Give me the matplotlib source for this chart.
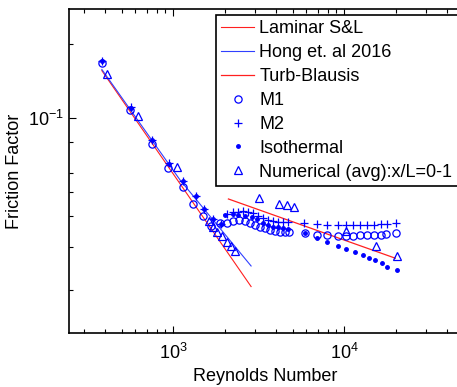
import matplotlib
matplotlib.use("Agg")
import matplotlib.pyplot as plt
from matplotlib.ticker import LogLocator, NullFormatter

plt.rcParams['font.family'] = ['Liberation Sans', 'DejaVu Sans']
plt.rcParams['mathtext.default'] = 'regular'

# ---- data ----
lam_re = [383, 2858]
lam_f = [0.1563, 0.0207]

hong_re = [383, 1099, 2858]
hong_f = [0.158, 0.0561, 0.0251]

blas_re = [2106, 19930]
blas_f = [0.0470, 0.0270]

m1_re = [383, 560, 751, 939, 1139, 1314, 1492, 1657, 1883, 2061, 2253, 2442,
         2636, 2820, 3017, 3227, 3451, 3692, 3949, 4224, 4519, 4788, 5914,
         6925, 7986, 9188, 10273, 11334, 12405, 13689, 15041, 16460, 17535, 20064]
m1_f = [0.1673, 0.1081, 0.0784, 0.0626, 0.0524, 0.0448, 0.0401, 0.0365, 0.0374,
        0.0376, 0.0383, 0.0386, 0.0383, 0.0376, 0.0368, 0.0362, 0.0357, 0.0351,
        0.0349, 0.0346, 0.0344, 0.0346, 0.0341, 0.0337, 0.0334, 0.0332, 0.0332,
        0.0332, 0.0335, 0.0335, 0.0336, 0.0336, 0.0338, 0.0343]

m2_re = [383, 566, 751, 947, 1139, 1363, 1518, 1707, 1900, 2080, 2253, 2409,
         2577, 2756, 2949, 3155, 3374, 3608, 3859, 4128, 4416, 4724, 5836,
         6925, 7986, 9262, 10273, 11334, 12405, 13689, 15041, 16460, 17772, 20147]
m2_f = [0.1714, 0.1108, 0.0816, 0.0656, 0.0556, 0.0483, 0.0427, 0.0390, 0.0372,
        0.0409, 0.0415, 0.0417, 0.0420, 0.0417, 0.0411, 0.0401, 0.0392, 0.0386,
        0.0383, 0.0380, 0.0380, 0.0380, 0.0374, 0.0371, 0.0368, 0.0368, 0.0368,
        0.0368, 0.0368, 0.03695, 0.03695, 0.0371, 0.0372, 0.0376]

iso_re = [383, 566, 751, 947, 1139, 1363, 1518, 1707, 1900, 2014, 2234, 2409,
          2636, 2886, 3112, 3374, 3608, 3859, 4128, 4416, 4724, 5914, 6925,
          7986, 9188, 10273, 11596, 12862, 14061, 15183, 16616, 17772, 20503]
iso_f = [0.1709, 0.1106, 0.0816, 0.0655, 0.0556, 0.0483, 0.0427, 0.0390, 0.0372,
         0.0405, 0.0407, 0.0405, 0.0401, 0.0398, 0.0388, 0.0376, 0.0368, 0.0362,
         0.0360, 0.0357, 0.0354, 0.0341, 0.0325, 0.0313, 0.0303, 0.0293, 0.0287,
         0.0278, 0.0271, 0.0265, 0.0257, 0.0249, 0.0242]

num_re = [413, 627, 1051, 1631, 1721, 1816, 1927, 2061, 2175, 2305, 3197, 4184,
          4623, 5101, 10204, 15387, 20503]
num_f = [0.1514, 0.1022, 0.0636, 0.0383, 0.0362, 0.0346, 0.0332, 0.0315, 0.0303,
         0.0289, 0.0473, 0.04495, 0.0443, 0.0434, 0.0348, 0.0303, 0.0275]

labels = ['Laminar S&L', 'Hong et. al 2016', 'Turb-Blausis', 'M1', 'M2',
          'Isothermal', 'Numerical (avg):x/L=0-1']

# ---- figure ----
W, H = 457, 387
fig = plt.figure(figsize=(W / 100, H / 100), dpi=100)
left, right, top, bottom = 69, 461, 9, 333
ax = fig.add_axes([left / W, (H - bottom) / H, (right - left) / W, (bottom - top) / H])
ax.set_xscale('log')
ax.set_yscale('log')

blue = '#0000FF'
red = '#FF2020'
ax.plot(lam_re, lam_f, color=red, lw=0.8, label=labels[0])
ax.plot(hong_re, hong_f, color='#3040FF', lw=0.8, label=labels[1])
ax.plot(blas_re, blas_f, color=red, lw=0.9, label=labels[2])
ax.plot(m1_re, m1_f, 'o', mfc='none', mec=blue, ms=5.2, mew=0.9, label=labels[3])
ax.plot(m2_re, m2_f, '+', color=blue, ms=6, mew=0.9, label=labels[4])
ax.plot(iso_re, iso_f, '.', color=blue, ms=5, label=labels[5])
ax.plot(num_re, num_f, '^', mfc='none', mec=blue, ms=6.2, mew=0.9, label=labels[6])

ax.set_xlim(246, 48300)
ax.set_ylim(0.0134, 0.2784)

ax.xaxis.set_major_locator(LogLocator(base=10, numticks=10))
ax.xaxis.set_minor_locator(LogLocator(base=10, subs=range(2, 10), numticks=20))
ax.yaxis.set_major_locator(LogLocator(base=10, numticks=10))
ax.yaxis.set_minor_locator(LogLocator(base=10, subs=[2, 3, 4, 5, 6, 8], numticks=20))
ax.yaxis.set_minor_formatter(NullFormatter())
ax.xaxis.set_minor_formatter(NullFormatter())

ax.tick_params(which='both', direction='in', top=True, right=True, labelsize=13,
               width=0.8)
ax.tick_params(which='major', length=5)
ax.tick_params(which='minor', length=3)
ax.tick_params(axis='x', which='major', pad=7)
for s in ax.spines.values():
    s.set_linewidth(1.2)

ax.set_xlabel('Reynolds Number', fontsize=13, labelpad=4)
ax.set_ylabel('Friction Factor', fontsize=13, labelpad=4)

leg = ax.legend(loc='upper left',
                bbox_to_anchor=(216 / W, 1 - 182 / H, 250 / W, 167 / H),
                bbox_transform=fig.transFigure, mode='expand', fontsize=13,
                frameon=True, fancybox=False, edgecolor='black', framealpha=1,
                handlelength=1.8, handletextpad=0.3, labelspacing=0.38,
                borderpad=0.3, borderaxespad=0, numpoints=1)
leg.get_frame().set_linewidth(1.2)

fig.savefig('out.png', dpi=100)
